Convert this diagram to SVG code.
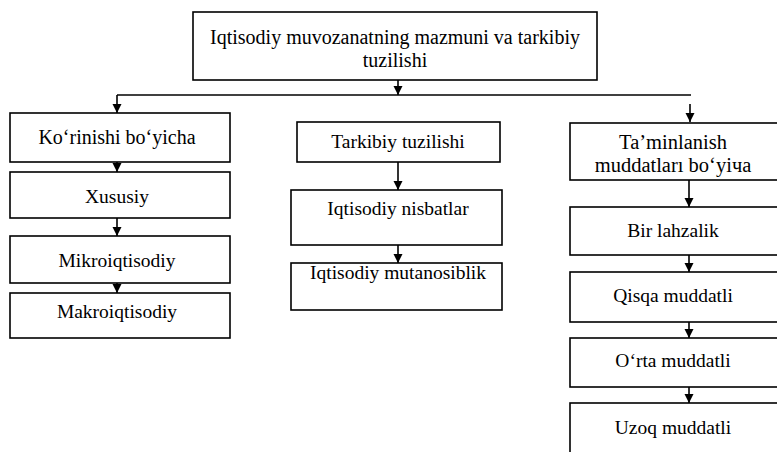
<svg xmlns="http://www.w3.org/2000/svg" width="777" height="452" viewBox="0 0 777 452">
<defs>
<marker id="ah" markerUnits="userSpaceOnUse" markerWidth="9" markerHeight="10" refX="9" refY="4.5" orient="auto">
<path d="M0,0 L9,4.5 L0,9 z" fill="#000"/>
</marker>
<style>
.box{fill:#fff;stroke:#000;stroke-width:1.6}
.t{font-family:"Liberation Serif","Times New Roman",serif;font-size:19.5px;fill:#000;text-anchor:middle}
.b{font-size:20px}
.r{font-size:20.5px}
.c{fill:none;stroke:#000;stroke-width:1.6}
.a{fill:none;stroke:#000;stroke-width:1.6;marker-end:url(#ah)}
</style>
</defs>
<rect width="777" height="452" fill="#fff"/>
<g id="connectors">
<line class="c" x1="117" y1="95" x2="691" y2="95"/>
<line class="a" x1="398" y1="80" x2="398" y2="95"/>
<line class="a" x1="117" y1="95" x2="117" y2="113"/>
<line class="a" x1="690" y1="104" x2="690" y2="122"/>
<line class="a" x1="117" y1="162" x2="117" y2="172"/>
<line class="a" x1="117" y1="218" x2="117" y2="236"/>
<line class="a" x1="117" y1="283" x2="117" y2="293"/>
<line class="a" x1="398" y1="162" x2="398" y2="190"/>
<line class="a" x1="398" y1="245" x2="398" y2="263"/>
<line class="a" x1="689" y1="180" x2="689" y2="207"/>
<line class="a" x1="689" y1="255" x2="689" y2="272"/>
<line class="a" x1="689" y1="322" x2="689" y2="338"/>
<line class="a" x1="689" y1="387" x2="689" y2="403"/>
</g>
<g id="title">
<rect class="box" x="193" y="12" width="404" height="68" stroke-width="2"/>
<text class="t b" x="395" y="44">Iqtisodiy muvozanatning mazmuni va tarkibiy</text>
<text class="t b" x="395" y="67">tuzilishi</text>
</g>
<g id="korinishi">
<rect class="box" x="10" y="113" width="220" height="49"/>
<text class="t b" x="117" y="144">Ko‘rinishi bo‘yicha</text>
</g>
<g id="xususiy">
<rect class="box" x="10" y="172" width="220" height="46"/>
<text class="t" x="117" y="203">Xususiy</text>
</g>
<g id="mikro">
<rect class="box" x="10" y="236" width="220" height="47"/>
<text class="t" x="117" y="267">Mikroiqtisodiy</text>
</g>
<g id="makro">
<rect class="box" x="10" y="293" width="220" height="45"/>
<text class="t" x="117" y="318">Makroiqtisodiy</text>
</g>
<g id="tarkibiy">
<rect class="box" x="297" y="122" width="203" height="40"/>
<text class="t" x="398" y="148">Tarkibiy tuzilishi</text>
</g>
<g id="nisbatlar">
<rect class="box" x="291" y="190" width="211" height="55"/>
<text class="t" x="398" y="215">Iqtisodiy nisbatlar</text>
</g>
<g id="mutanosiblik">
<rect class="box" x="291" y="263" width="211" height="47"/>
<text class="t" x="398" y="279">Iqtisodiy mutanosiblik</text>
</g>
<g id="taminlanish">
<rect class="box" x="570" y="123" width="212" height="57"/>
<text class="t r" x="673" y="149">Ta’minlanish</text>
<text class="t r" x="673" y="172">muddatları bo‘yiчa</text>
</g>
<g id="bir">
<rect class="box" x="570" y="207" width="212" height="48"/>
<text class="t" x="673" y="237">Bir lahzalik</text>
</g>
<g id="qisqa">
<rect class="box" x="570" y="272" width="212" height="50"/>
<text class="t" x="673" y="302">Qisqa muddatli</text>
</g>
<g id="orta">
<rect class="box" x="570" y="338" width="212" height="49"/>
<text class="t" x="673" y="367">O‘rta muddatli</text>
</g>
<g id="uzoq">
<rect class="box" x="570" y="403" width="212" height="60"/>
<text class="t" x="673" y="434">Uzoq muddatli</text>
</g>
</svg>
